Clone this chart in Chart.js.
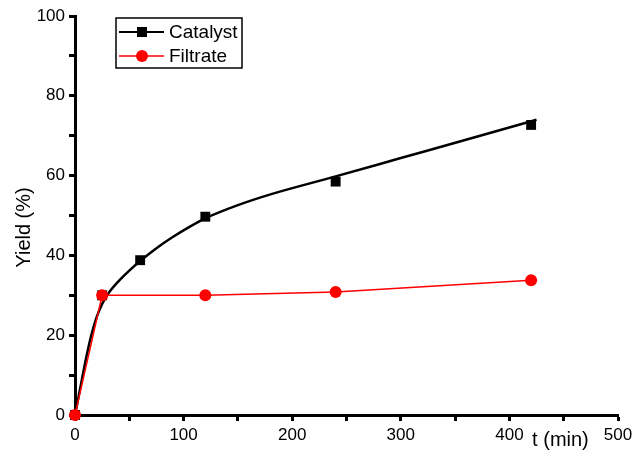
<!DOCTYPE html>
<html>
<head>
<meta charset="utf-8">
<script src="https://cdn.jsdelivr.net/npm/chart.js@4.4.1/dist/chart.umd.min.js"></script>
<style>
  html, body { margin: 0; padding: 0; background: #fff; }
  #wrap { width: 633px; height: 455px; }
</style>
</head>
<body>
<div id="wrap"><canvas id="yield-chart" width="633" height="455"></canvas></div>
<script>
// values
const catalystTime = [0, 25, 60, 120, 240, 420];
const catalystYield = [0, 30, 38.8, 49.7, 58.5, 72.7];
const filtrateTime = [0, 25, 120, 240, 420];
const filtrateYield = [0, 30, 30, 30.8, 33.8];
// fitted curve through the catalyst points (traced)
const fitTime = [0, 5, 10, 15, 20, 25, 30, 40, 50, 60, 75, 90, 105, 120, 150, 180, 240, 300, 360, 425];
const fitYield = [0, 7, 14, 20, 24.6, 27.8, 30.2, 33.5, 36.2, 38.6, 41.8, 44.6, 47.1, 49.3, 52.6, 55.3, 59.8, 64.4, 69, 74];
const seriesNames = ['Catalyst', 'Filtrate'];
const xTitle = 't (min)';
const yTitle = 'Yield (%)';

const FONT = '"Liberation Sans", Arial, sans-serif';
const RED = '#ff0000';

function toPoints(xs, ys) {
	return xs.map((x, i) => ({ x: x, y: ys[i] }));
}

// legend box and axis titles drawn by hand, like the origin-style plot
const extrasPlugin = {
	id: 'extras',
	afterDraw(chart) {
		const { ctx, chartArea, scales } = chart;
		ctx.save();

		// legend
		const lx = chartArea.left + 41;
		const ly = chartArea.top + 2;
		ctx.strokeStyle = '#000';
		ctx.lineWidth = 1.5;
		ctx.strokeRect(lx, ly, 126, 50);
		const rows = [
			{ name: seriesNames[0], color: '#000', shape: 'square', lw: 2 },
			{ name: seriesNames[1], color: RED, shape: 'circle', lw: 1.5 },
		];
		rows.forEach((row, i) => {
			const cy = ly + 14 + i * 24;
			ctx.strokeStyle = row.color;
			ctx.lineWidth = row.lw;
			ctx.beginPath();
			ctx.moveTo(lx + 3, cy);
			ctx.lineTo(lx + 48, cy);
			ctx.stroke();
			ctx.fillStyle = row.color;
			if (row.shape === 'square') {
				ctx.fillRect(lx + 26 - 5, cy - 5, 10, 10);
			} else {
				ctx.beginPath();
				ctx.arc(lx + 26, cy, 6, 0, Math.PI * 2);
				ctx.fill();
			}
			ctx.fillStyle = '#000';
			ctx.font = '19px ' + FONT;
			ctx.textBaseline = 'middle';
			ctx.textAlign = 'left';
			ctx.fillText(row.name, lx + 53, cy + 1);
		});

		// x title sits low and to the right
		ctx.fillStyle = '#000';
		ctx.font = '20px ' + FONT;
		ctx.textAlign = 'center';
		ctx.textBaseline = 'alphabetic';
		ctx.fillText(xTitle, scales.x.getPixelForValue(447), 446);

		// y title rotated
		ctx.translate(24, scales.y.getPixelForValue(47));
		ctx.rotate(-Math.PI / 2);
		ctx.font = '20px ' + FONT;
		ctx.textBaseline = 'middle';
		ctx.fillText(yTitle, 0, 0);
		ctx.restore();
	},
};

new Chart(document.getElementById('yield-chart'), {
	type: 'scatter',
	data: {
		datasets: [
			{
				label: seriesNames[1],
				data: toPoints(filtrateTime, filtrateYield),
				showLine: true,
				borderColor: RED,
				backgroundColor: RED,
				borderWidth: 1.5,
				pointStyle: 'circle',
				pointRadius: 6,
				pointBorderWidth: 0,
				clip: false,
				order: 0,
			},
			{
				label: seriesNames[0],
				data: toPoints(catalystTime, catalystYield),
				showLine: false,
				borderColor: '#000',
				backgroundColor: '#000',
				pointStyle: 'rect',
				pointRadius: 7,
				pointBorderWidth: 0,
				clip: false,
				order: 1,
			},
			{
				label: 'fit',
				data: toPoints(fitTime, fitYield),
				showLine: true,
				borderColor: '#000',
				borderWidth: 2.5,
				pointRadius: 0,
				cubicInterpolationMode: 'monotone',
				clip: false,
				order: 2,
			},
		],
	},
	options: {
		responsive: false,
		animation: false,
		layout: { padding: { left: 0, right: 15, top: 16, bottom: 0 } },
		plugins: {
			legend: { display: false },
			tooltip: { enabled: false },
		},
		scales: {
			x: {
				type: 'linear',
				min: 0,
				max: 500,
				afterFit(scale) {
					scale.height = 40;
					scale.paddingLeft = 0;
					scale.paddingRight = 0;
				},
				ticks: {
					stepSize: 50,
					color: '#000',
					font: { family: FONT, size: 17 },
					padding: 4,
					maxRotation: 0,
					autoSkip: false,
					callback: (v) => (v % 100 === 0 ? v : ''),
				},
				grid: {
					drawOnChartArea: false,
					drawTicks: true,
					tickLength: 6,
					tickColor: '#000',
					tickWidth: 3,
				},
				border: { color: '#000', width: 3 },
			},
			y: {
				type: 'linear',
				min: 0,
				max: 100,
				afterFit(scale) {
					scale.width = 75;
					scale.paddingTop = 0;
					scale.paddingBottom = 0;
				},
				ticks: {
					stepSize: 10,
					color: '#000',
					font: { family: FONT, size: 17 },
					padding: 4,
					autoSkip: false,
					callback: (v) => (v % 20 === 0 ? v : ''),
				},
				grid: {
					drawOnChartArea: false,
					drawTicks: true,
					tickLength: 6,
					tickColor: '#000',
					tickWidth: 3,
				},
				border: { color: '#000', width: 3 },
			},
		},
	},
	plugins: [extrasPlugin],
});
</script>
</body>
</html>
